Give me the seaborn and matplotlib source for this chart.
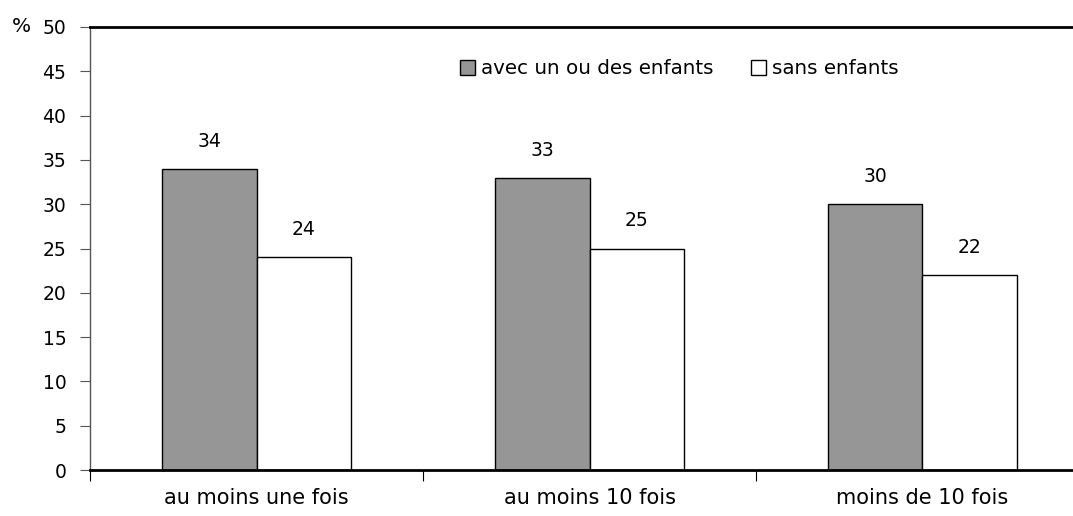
import matplotlib
matplotlib.use("Agg")
import matplotlib.pyplot as plt
import seaborn as sns
import pandas as pd
from matplotlib.patches import Patch

categories = ["au moins une fois", "au moins 10 fois", "moins de 10 fois"]
series_names = ["avec un ou des enfants", "sans enfants"]
avec = [34, 33, 30]
sans = [24, 25, 22]
yticks = [0, 5, 10, 15, 20, 25, 30, 35, 40, 45, 50]

df = pd.DataFrame({
    "cat": categories * 2,
    "serie": [series_names[0]] * 3 + [series_names[1]] * 3,
    "val": avec + sans,
})

sns.set_theme(style="white")
plt.rcParams["font.family"] = ["DejaVu Sans"]
plt.rcParams["text.color"] = "black"
plt.rcParams["xtick.labelcolor"] = "black"
plt.rcParams["ytick.labelcolor"] = "black"
FS = 13.5

fig = plt.figure(figsize=(10.73, 5.16), dpi=100)
ax = fig.add_axes([90 / 1073, 1 - 470 / 516, 1 - 90 / 1073, (470 - 27) / 516])

colors = ["#969696", "#ffffff"]
sns.barplot(data=df, x="cat", y="val", hue="serie", order=categories,
            hue_order=series_names, palette=colors, width=0.57, gap=0,
            edgecolor="black", linewidth=1.0, ax=ax, legend=False,
            saturation=1)

for cont in ax.containers:
    ax.bar_label(cont, fmt="%d", padding=13, fontsize=FS, color="black")

ax.set_xlim(-0.5, -0.5 + (1073 - 90) / 333)
ax.set_ylim(0, 50)
ax.set_yticks(yticks)
ax.set_yticklabels([str(v) for v in yticks], fontsize=FS)
ax.set_xticks([-0.5, 0.5, 1.5])
ax.set_xticklabels([])
ax.set_xticks(range(len(categories)), minor=True)
ax.set_xticklabels(categories, minor=True, fontsize=15)
ax.tick_params(axis="x", which="major", direction="out", length=8, width=0.8,
               color="black", bottom=True)
ax.tick_params(axis="x", which="minor", length=0, pad=13)
ax.tick_params(axis="y", direction="out", length=7, width=0.8, color="#555555",
               left=True, pad=10)
ax.set_xlabel("")
ax.set_ylabel("")
ax.grid(False)

ax.spines["right"].set_visible(False)
ax.spines["top"].set_visible(True)
ax.spines["top"].set_linewidth(2)
ax.spines["top"].set_color("black")
ax.spines["bottom"].set_linewidth(2)
ax.spines["bottom"].set_color("black")
ax.spines["left"].set_linewidth(1)
ax.spines["left"].set_color("#555555")

fig.text(12 / 1073, 1 - 27 / 516, "%", fontsize=14.5, va="center", ha="left",
         color="black")

handles = [Patch(facecolor=c, edgecolor="black", linewidth=1.0) for c in colors]
leg = ax.legend(handles, series_names, loc="center left",
                bbox_to_anchor=((460 - 90) / (1073 - 90), (470 - 69) / 443),
                ncol=2, frameon=False, handlelength=0.75, handleheight=0.75,
                handletextpad=0.3, columnspacing=1.9, fontsize=14.3,
                borderaxespad=0, borderpad=0)
for t in leg.get_texts():
    t.set_color("black")

fig.savefig("out.png", dpi=100)
